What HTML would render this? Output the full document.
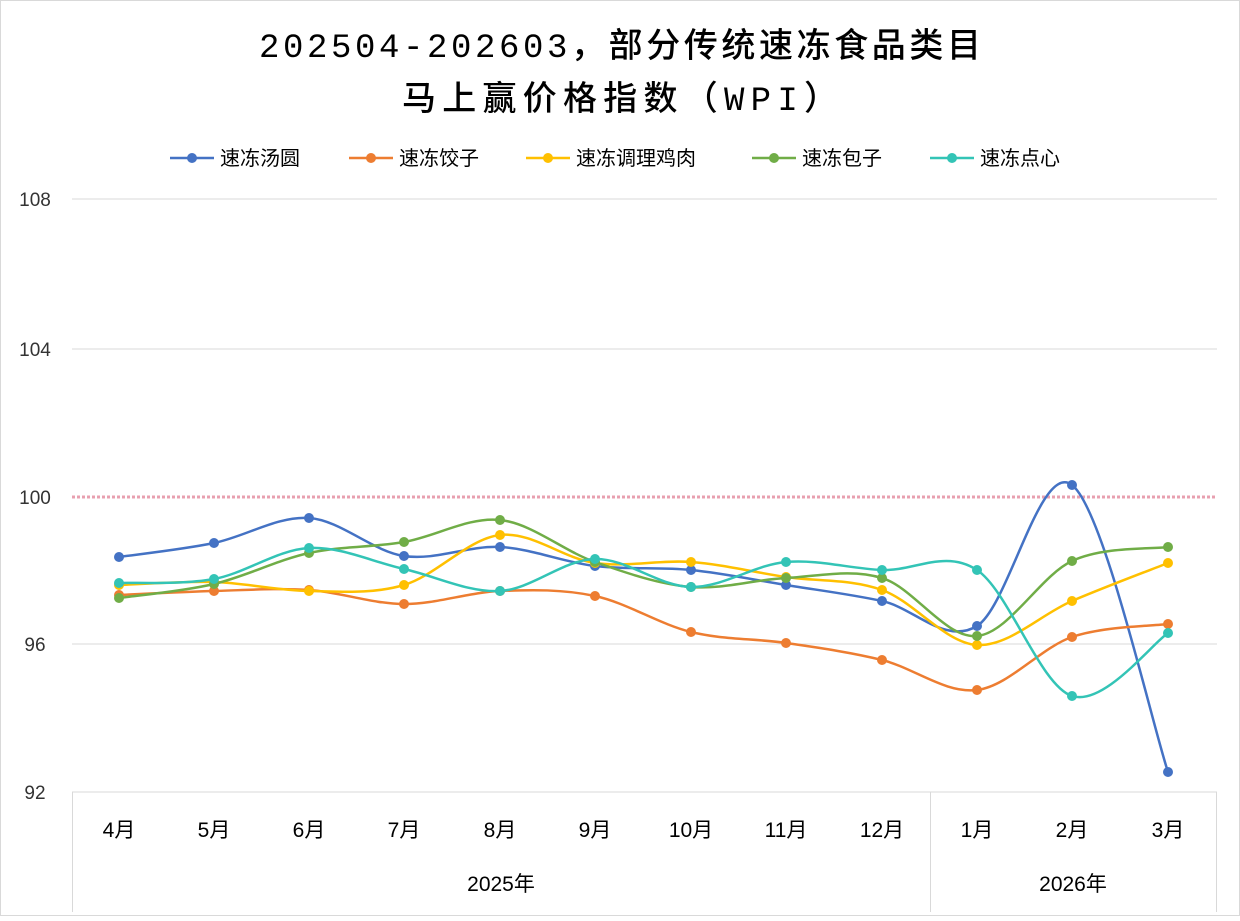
<!DOCTYPE html>
<html><head><meta charset="utf-8"><style>
body{margin:0;background:#fff}
svg text{font-family:"Liberation Sans","Noto Sans CJK SC",sans-serif}
svg text.t{font-family:"Liberation Mono","Noto Sans CJK SC",monospace;font-weight:500}
</style></head><body>
<svg id="s" width="1240" height="916" xmlns="http://www.w3.org/2000/svg">
<rect x="0.5" y="0.5" width="1239" height="915" fill="#fff" stroke="#d9d9d9"/>
<text class="t" x="620" y="57" font-size="34" text-anchor="middle" fill="#000" textLength="722">202504-202603，部分传统速冻食品类目</text>
<text class="t" x="620" y="110" font-size="34" text-anchor="middle" fill="#000" textLength="436">马上赢价格指数（WPI）</text>
<g stroke="#d9d9d9" stroke-width="1">
<line x1="72" y1="199" x2="1217" y2="199"/><line x1="72" y1="349" x2="1217" y2="349"/>
<line x1="72" y1="644" x2="1217" y2="644"/>
<line x1="72" y1="792" x2="1217" y2="792"/>
<line x1="72.5" y1="792" x2="72.5" y2="912"/><line x1="930.5" y1="792" x2="930.5" y2="912"/><line x1="1216.5" y1="792" x2="1216.5" y2="912"/>
</g>
<line x1="72" y1="497" x2="1217" y2="497" stroke="#e8a0b0" stroke-width="3" stroke-dasharray="3,2"/>
<g font-size="19" fill="#333" text-anchor="middle">
<text x="35" y="206">108</text><text x="35" y="356">104</text><text x="35" y="504">100</text><text x="35" y="651">96</text><text x="35" y="799">92</text>
</g>
<g id="xl" font-size="21" fill="#000" text-anchor="middle"></g>
<text x="501" y="891" font-size="21" text-anchor="middle">2025年</text>
<text x="1073" y="891" font-size="21" text-anchor="middle">2026年</text>
<g id="lg" font-size="20" fill="#000"></g>
<g id="ser"></g>
</svg>
<script>
var xs=[119,214,309,404,500,595,691,786,882,977,1072,1168];
var lab=["4月","5月","6月","7月","8月","9月","10月","11月","12月","1月","2月","3月"];
var ns="http://www.w3.org/2000/svg";
function el(t,a,p,tx){var e=document.createElementNS(ns,t);for(var k in a)e.setAttribute(k,a[k]);if(tx)e.textContent=tx;p.appendChild(e);return e;}
var xl=document.getElementById('xl');
lab.forEach(function(l,i){el('text',{x:xs[i],y:837},xl,l);});
var S=[
["速冻汤圆","#4472C4",[557,543,518,556,547,566,570,585,601,626,485,772]],
["速冻饺子","#ED7D31",[595,591,590,604,591,596,632,643,660,690,637,624]],
["速冻调理鸡肉","#FFC000",[585,582,591,585,535,563,562,577,590,645,601,563]],
["速冻包子","#70AD47",[598,584,553,542,520,562,587,578,578,636,561,547]],
["速冻点心","#33C4B6",[583,579,548,569,591,559,587,562,570,570,696,633]]];
var g=document.getElementById('ser'),lg=document.getElementById('lg');
var lx=[170,349,526,752,930];
S.forEach(function(s,si){
 var y=s[2],d="M"+xs[0]+","+y[0];
 for(var i=0;i<11;i++){
  var p0=i?i-1:i,p3=i+2<12?i+2:i+1,t=1/6;
  var c1x=xs[i]+(xs[i+1]-xs[p0])*t,c1y=y[i]+(y[i+1]-y[p0])*t;
  var c2x=xs[i+1]-(xs[p3]-xs[i])*t,c2y=y[i+1]-(y[p3]-y[i])*t;
  d+=" C"+c1x+","+c1y+" "+c2x+","+c2y+" "+xs[i+1]+","+y[i+1];
 }
 el('path',{d:d,fill:"none",stroke:s[1],"stroke-width":2.5},g);
 y.forEach(function(v,i){el('circle',{cx:xs[i],cy:v,r:5,fill:s[1]},g);});
 el('line',{x1:lx[si],y1:158,x2:lx[si]+44,y2:158,stroke:s[1],"stroke-width":2.5},lg);
 el('circle',{cx:lx[si]+22,cy:158,r:5,fill:s[1]},lg);
 el('text',{x:lx[si]+50,y:165},lg,s[0]);
});
</script>
</body></html>
